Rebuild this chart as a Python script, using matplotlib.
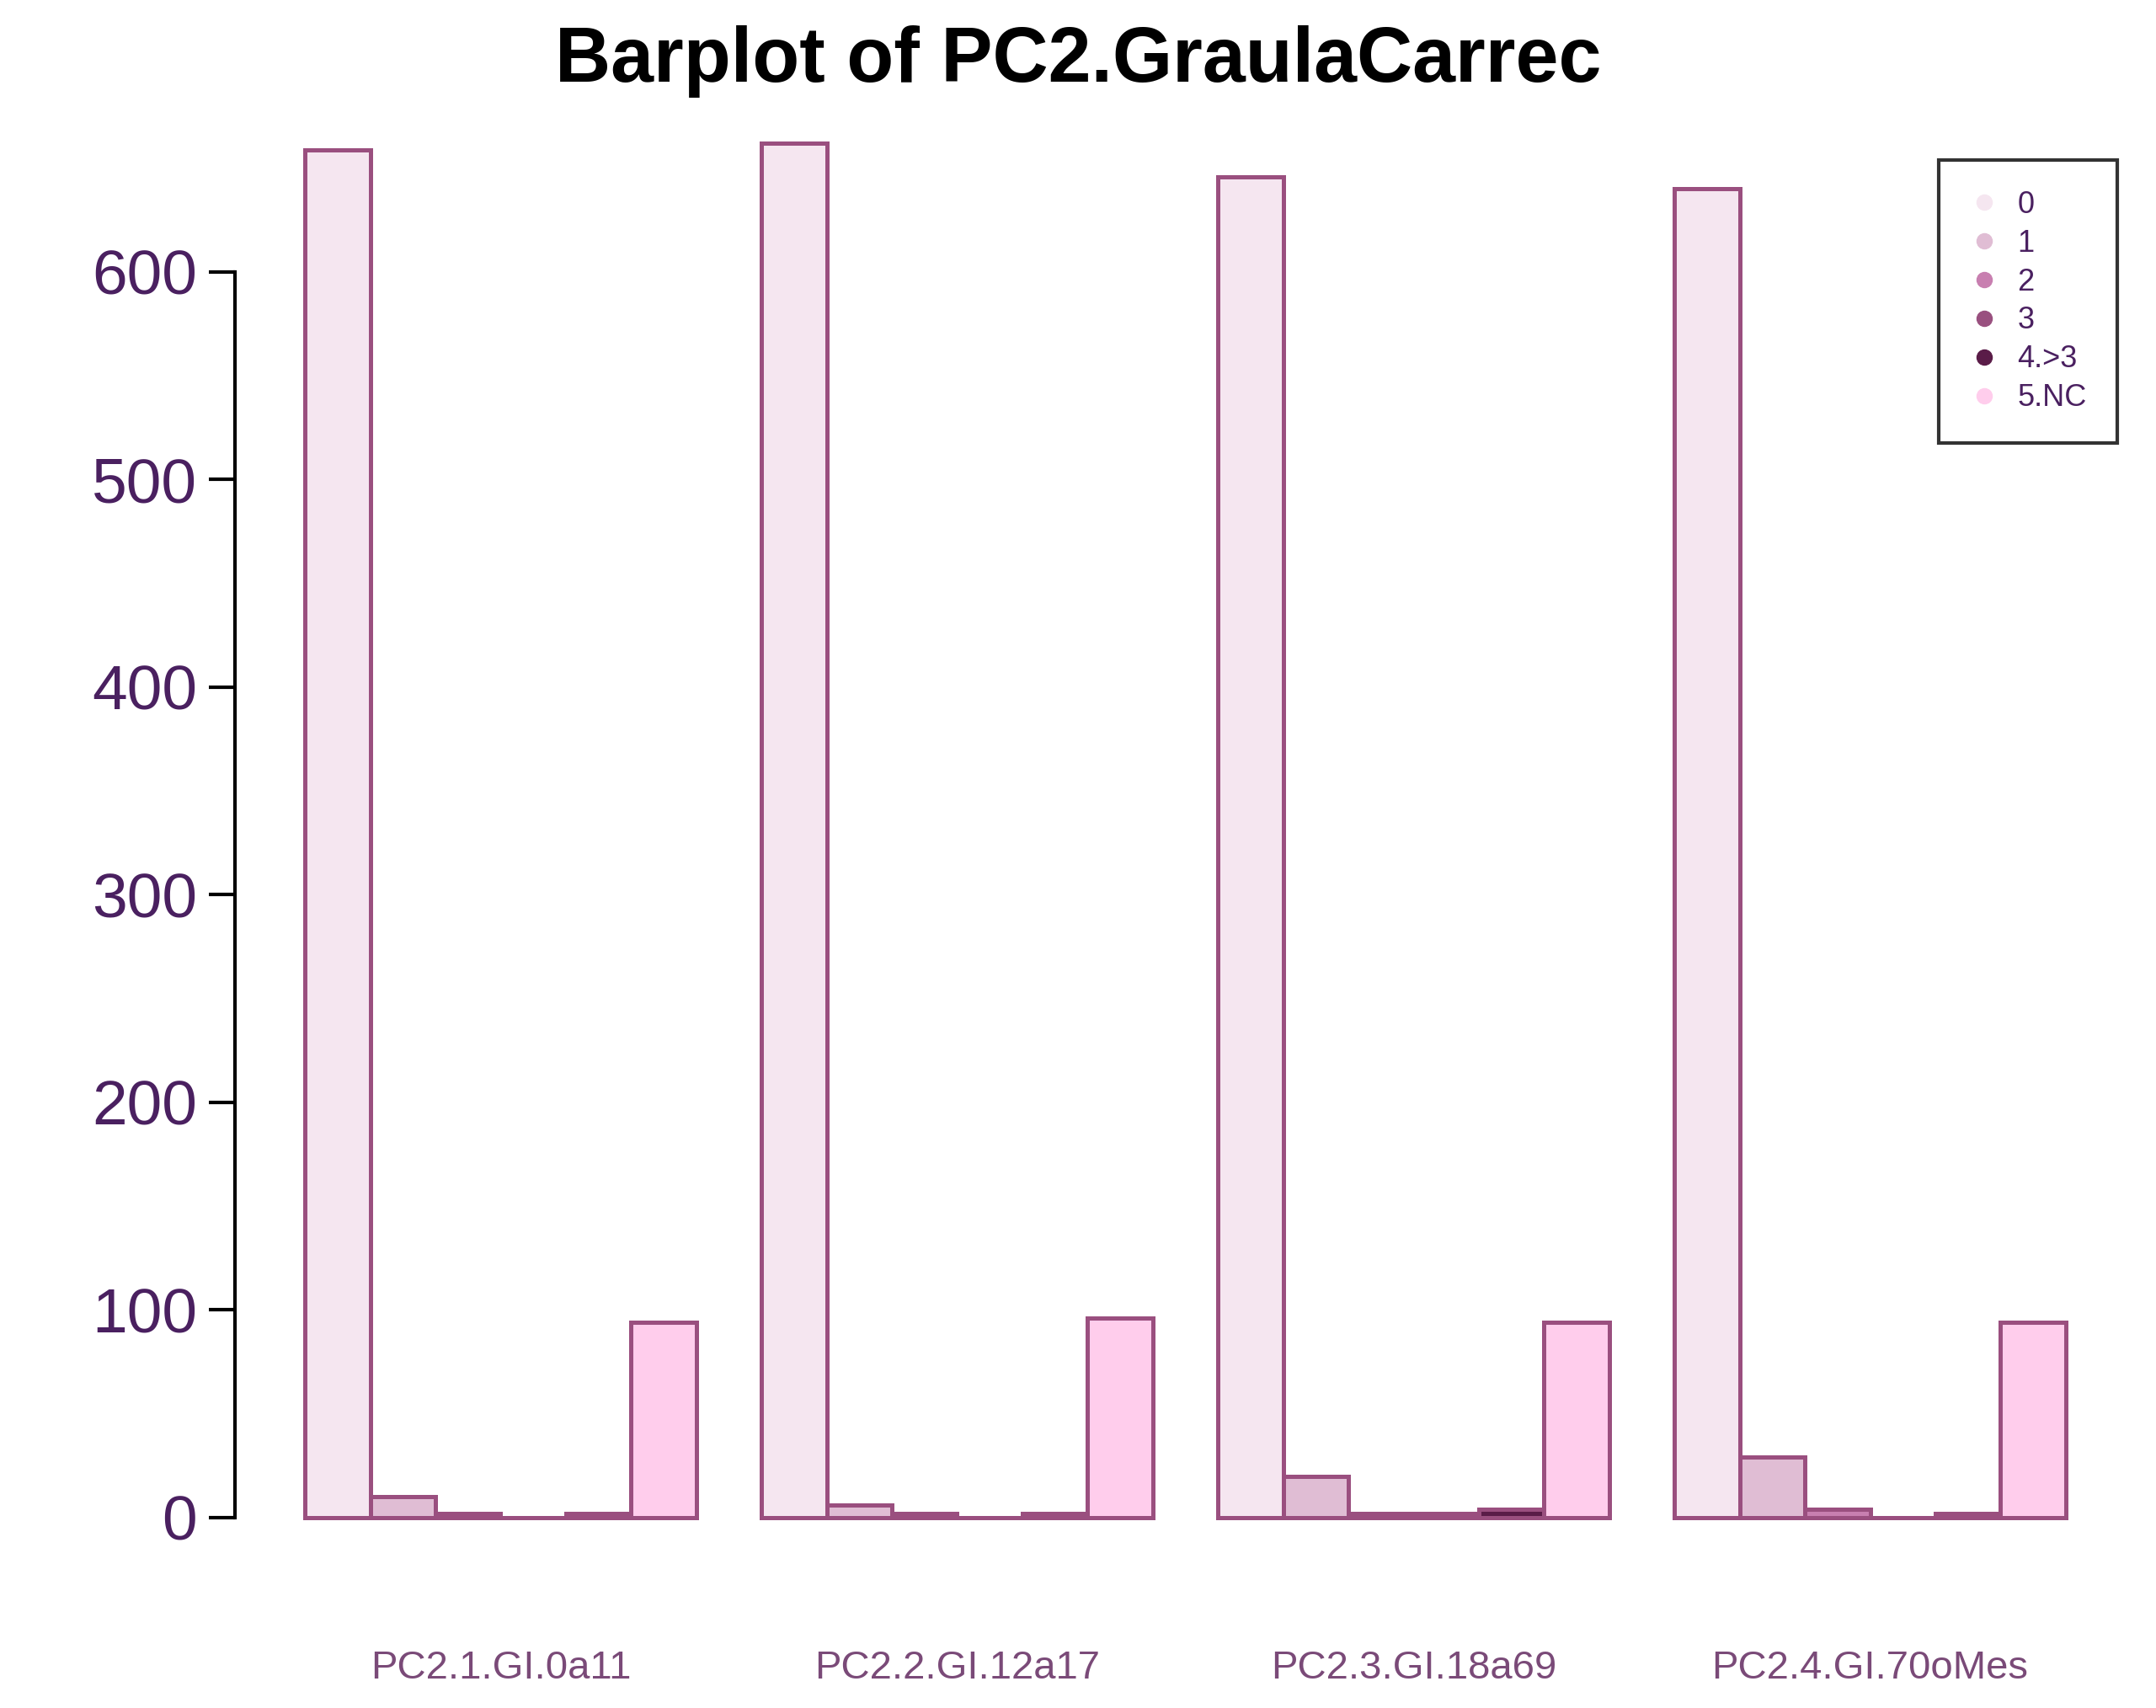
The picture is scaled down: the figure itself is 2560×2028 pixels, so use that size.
import matplotlib
matplotlib.use("Agg")
import matplotlib.pyplot as plt
from matplotlib.lines import Line2D

plt.rcParams['font.family'] = ['Liberation Sans', 'DejaVu Sans']

groups = ["PC2.1.GI.0a11", "PC2.2.GI.12a17", "PC2.3.GI.18a69", "PC2.4.GI.70oMes"]
levels = ["0", "1", "2", "3", "4.>3", "5.NC"]
values = [
    [659, 10, 2, 0, 2, 94],
    [662, 6, 2, 0, 2, 96],
    [646, 20, 2, 2, 4, 94],
    [640, 29, 4, 0, 2, 94],
]
colors = ["#f5e6f0", "#e0bdd4", "#c87fb0", "#99507f", "#5a1c48", "#ffcdec"]
edge = "#9a4f7f"

fig = plt.figure(figsize=(25.6, 20.28), dpi=100)
ax = fig.add_axes([0.1088, 0.0793, 0.882, 0.869])
nl = len(levels)
for g, vals in enumerate(values):
    start = 1 + g * (nl + 1)
    for i, v in enumerate(vals):
        ax.bar(start + i, v, width=1, align="edge", color=colors[i],
               edgecolor=edge, linewidth=3.6)
ymax = max(max(v) for v in values)
ax.set_xlim(-0.08, 29.08)
ax.set_ylim(-0.04 * ymax, 1.04 * ymax)
for s in ["top", "right", "bottom"]:
    ax.spines[s].set_visible(False)
ax.spines["left"].set_bounds(0, 600)
ax.spines["left"].set_linewidth(3)
ax.set_yticks([0, 100, 200, 300, 400, 500, 600])
ax.tick_params(axis="y", labelsize=54, labelcolor="#4a2060", width=3, length=22, pad=10)
ax.set_xticks([1 + g * (nl + 1) + nl / 2 for g in range(len(groups))])
ax.set_xticklabels(groups, fontsize=34, color="#7a4a78")
ax.tick_params(axis="x", length=0, pad=66)
fig.suptitle("Barplot of PC2.GraulaCarrec", fontsize=66, fontweight="bold", y=0.985)

handles = [Line2D([], [], marker="o", linestyle="none", markersize=13,
                  markerfacecolor=c, markeredgecolor=c) for c in colors]
leg = ax.legend(handles, levels, loc="upper right", bbox_to_anchor=(0.998, 0.962),
                fontsize=26, frameon=True, fancybox=False, edgecolor="black",
                labelspacing=0.3, handlelength=1.0, handletextpad=0.6, borderpad=1.0,
                labelcolor="#4a2060")
leg.get_frame().set_linewidth(3)
fig.savefig("out.png", dpi=100)
